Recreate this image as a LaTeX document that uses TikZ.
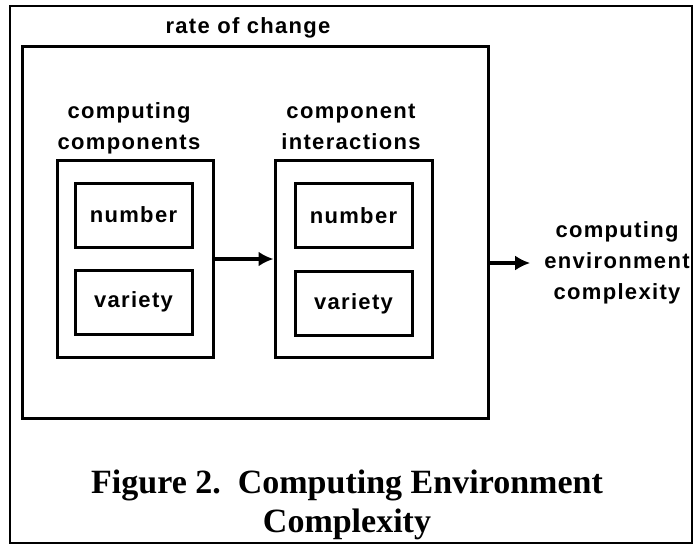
\documentclass[tikz,border=0pt]{standalone}
\usepackage{fontspec}
\setmainfont{Liberation Serif}
\newfontfamily\labelfont{Liberation Sans}[LetterSpace=6]
\usetikzlibrary{positioning, arrows.meta}

\begin{document}
\begin{tikzpicture}[x=1pt, y=-1pt,
  box/.style={draw, line width=3pt, inner sep=0pt},
  lbl/.style={font=\labelfont\bfseries\fontsize{22}{31}\selectfont, align=center},
  arr/.style={-{Latex[length=15pt,width=15pt]}, line width=4pt}]
  \useasboundingbox (0,0) rectangle (695,548);
  \node[draw, line width=2.4pt, minimum width=682pt, minimum height=537pt, inner sep=0pt] (frame) at (351,274.5) {};
  \node[box, minimum width=466pt, minimum height=371pt] (rate) at (255,232.5) {};
  \node[lbl] (ratelbl) at (248,28) {rate of change};

  % the two groups
  \node[box, minimum width=156pt, minimum height=196pt] (grpL) at (135,259) {};
  \node[box, minimum width=157pt, minimum height=196pt] (grpR) at (353.5,259) {};
  \node[lbl] (grpLlbl) at (129,128) {computing\\components};
  \node[lbl] (grpRlbl) at (351,127) {component\\interactions};

  \node[box, lbl, minimum width=117pt, minimum height=64pt] (numL) at (133.5,215) {number};
  \node[box, lbl, minimum width=117pt, minimum height=64pt] (varL) at (133.5,302) {variety};
  \node[box, lbl, minimum width=117pt, minimum height=64pt] (numR) at (353.5,215.5) {number};
  \node[box, lbl, minimum width=117pt, minimum height=64pt] (varR) at (353.5,303.5) {variety};

  \node[lbl, inner sep=0pt] (cplx) at (617,263) {computing\\environment\\complexity};

  \draw[arr] (grpL) -- (grpR);
  \draw[arr] (rate.east |- cplx.west) -- ([xshift=-14pt]cplx.west);

  \node[font=\bfseries\fontsize{34}{39}\selectfont, align=center] (cap) at (347,505) {Figure 2.\ \ Computing Environment\\Complexity};
\end{tikzpicture}
\end{document}
